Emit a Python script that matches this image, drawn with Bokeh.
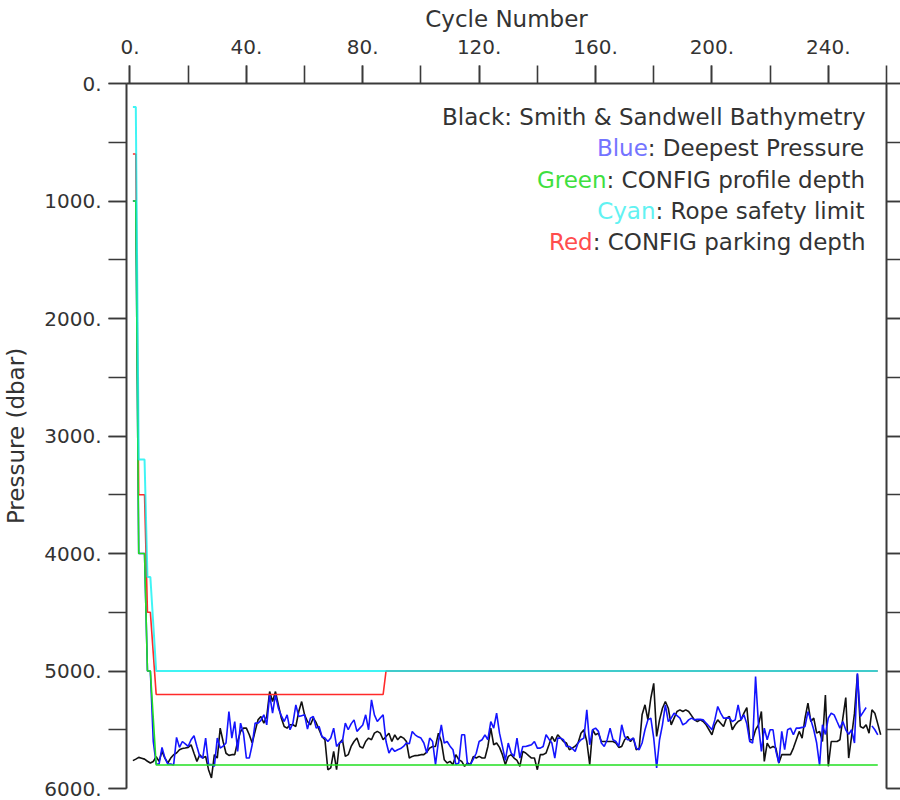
from bokeh.plotting import figure
from bokeh.models import (Range1d, LinearAxis, SingleIntervalTicker, PrintfTickFormatter,
                          CustomJSTickFormatter, Label)
from bokeh.embed import file_html
from bokeh.resources import INLINE

nan = float("nan")

# ---------------- data ----------------
bathy_cycles = list(range(1, 259))
bathy = [5763, 5750, 5735, 5742, 5750, 5768, 5783, 5770, 5730, 5769,
         5684, 5741, 5783, 5741, 5712, 5698, 5670, 5660, 5656, 5650,
         5628, 5700, 5769, 5712, 5741, 5727, 5840, 5910, 5712, 5741,
         5486, 5600, 5700, 5718, 5712, 5712, 5600, 5514, 5486, 5486,
         5543, 5613, 5514, 5416, 5387, 5444, 5387, 5175, 5260, 5175,
         5288, 5400, 5472, 5486, 5458, 5458, 5472, 5345, 5260, 5373,
         5430, 5458, 5400, 5440, 5500, 5560, 5585, 5840, 5825, 5684,
         5840, 5613, 5585, 5727, 5712, 5642, 5600, 5571, 5642, 5656,
         5600, 5571, 5585, 5529, 5514, 5529, 5585, 5557, 5529, 5600,
         5543, 5585, 5557, 5571, 5600, 5741, 5727, 5720, 5718, 5712,
         5712, 5690, 5656, 5642, 5642, 5529, 5600, 5755, 5783, 5769,
         5797, 5712, 5755, 5769, 5811, 5783, 5797, 5727, 5741, 5727,
         5741, 5741, 5642, 5486, 5628, 5613, 5650, 5712, 5797, 5727,
         5712, 5741, 5760, 5811, 5684, 5698, 5720, 5741, 5741, 5840,
         5712, 5712, 5698, 5628, 5557, 5600, 5543, 5571, 5600, 5613,
         5670, 5656, 5640, 5613, 5529, 5500, 5600, 5797, 5500, 5543,
         5529, 5600, 5600, 5600, 5600, 5600, 5613, 5650, 5642, 5585,
         5557, 5600, 5571, 5670, 5656, 5373, 5288, 5416, 5232, 5105,
         5557, 5416, 5317, 5260, 5317, 5458, 5401, 5345, 5331, 5345,
         5331, 5345, 5380, 5416, 5430, 5416, 5430, 5458, 5500, 5543,
         5458, 5416, 5444, 5472, 5401, 5387, 5500, 5458, 5430, 5416,
         5359, 5311, 5585, 5585, 5500, 5458, 5345, 5769, 5613, 5656,
         5642, 5656, 5783, 5712, 5712, 5712, 5712, 5656, 5585, 5514,
         5571, 5401, 5274, 5430, 5401, 5529, 5514, 5600, 5204, 5811,
         5600, 5600, 5600, 5585, 5401, 5226, 5741, 5557, 5359, 5028,
         5472, 5486, 5458, 5529, 5331, 5359, 5450, 5543]

deep_cycles = list(range(1, 258))
deepest = [1000, 1000, 4000, 4000, 4000, 5000, 5000, 5600, 5790, 5792,
           5650, 5740, 5792, 5792, 5800, 5565, 5650, 5600, 5620, 5642,
           5585, 5551, 5642, 5727, 5741, 5571, 5797, 5797, 5811, 5571,
           5656, 5640, 5613, 5345, 5571, 5430, 5684, 5444, 5529, 5741,
           5741, 5628, 5444, 5444, 5420, 5373, 5458, 5204, 5359, 5204,
           5317, 5380, 5430, 5373, 5500, 5444, 5288, 5387, 5380, 5373,
           5495, 5401, 5387, 5486, 5472, 5560, 5571, 5600, 5571, 5486,
           5642, 5613, 5600, 5444, 5500, 5450, 5416, 5514, 5486, 5460,
           5373, 5500, 5246, 5373, 5430, 5400, 5373, 5600, 5698, 5656,
           5684, 5670, 5660, 5642, 5613, 5620, 5514, 5543, 5560, 5571,
           5613, 5698, 5571, 5600, 5797, 5600, 5458, 5613, 5600, 5640,
           5670, 5797, 5783, 5543, 5543, 5797, 5797, 5750, 5700, 5600,
           5585, 5543, 5585, 5430, 5486, 5359, 5529, 5642, 5760, 5613,
           5698, 5727, 5571, 5741, 5642, 5642, 5635, 5628, 5600, 5656,
           5656, 5642, 5543, 5580, 5613, 5741, 5571, 5571, 5585, 5642,
           5642, 5660, 5684, 5613, 5585, 5571, 5331, 5628, 5500, 5486,
           5514, 5613, 5642, 5585, 5486, 5585, 5600, 5642, 5458, 5557,
           5585, 5585, 5571, 5656, 5670, 5613, 5500, 5416, 5401, 5571,
           5825, 5585, 5458, 5288, 5430, 5401, 5359, 5380, 5401, 5458,
           5444, 5416, 5401, 5416, 5410, 5412, 5416, 5444, 5470, 5500,
           5416, 5302, 5359, 5401, 5401, 5401, 5430, 5416, 5288, 5416,
           5373, 5450, 5600, 5613, 5048, 5458, 5684, 5486, 5585, 5500,
           5500, 5684, 5783, 5514, 5670, 5500, 5486, 5543, 5486, 5486,
           5480, 5472, 5345, 5416, 5500, 5613, 5803, 5458, 5540, 5401,
           5359, 5373, 5430, 5486, 5430, 5500, 5540, 5500, 5613, 5020,
           5387, 5350, 5311, nan, 5467, 5500, 5543]

profile_cycles = [1, 2, 3, 5, 6, 7, 8, 9, 257]
profile_depth = [1000, 1000, 4000, 4000, 5000, 5000, 5400, 5800, 5800]

rope_cycles = [1, 2, 3, 5, 6, 7, 8, 9, 257]
rope_limit = [200, 200, 3200, 3200, 4200, 4200, 4600, 5000, 5000]

park_cycles = [1, 2, 3, 5, 6, 7, 8, 9, 87, 88, 257]
park_depth = [600, 600, 3500, 3500, 4500, 4500, 4850, 5200, 5200, 5000, 5000]

x_major = 40
y_major = 1000

legend_rows = [
    ("", "#3a3a3a", "Black: Smith & Sandwell Bathymetry"),
    ("Blue", "#7474ff", ": Deepest Pressure"),
    ("Green", "#3fe03f", ": CONFIG profile depth"),
    ("Cyan", "#62f2f2", ": Rope safety limit"),
    ("Red", "#ff4d4d", ": CONFIG parking depth"),
]

# ---------------- figure ----------------
FONT = "DejaVu Sans"
TXT = "#333333"

p = figure(width=900, height=800,
           x_range=Range1d(-1.2, 260), y_range=Range1d(6000, 0),
           x_axis_location="above", output_backend="svg", toolbar_location=None,
           min_border_left=0, min_border_right=0, min_border_top=83, min_border_bottom=12)
p.outline_line_color = None
p.xgrid.visible = False
p.ygrid.visible = False


def style_axis(ax, tick_len):
    ax.axis_line_color = "#3a3a3a"
    ax.axis_line_width = 2
    ax.major_tick_line_color = "#3a3a3a"
    ax.minor_tick_line_color = "#3a3a3a"
    ax.major_tick_line_width = 1.6
    ax.minor_tick_line_width = 1.6
    ax.major_tick_in = 0
    ax.minor_tick_in = 0
    ax.major_tick_out = tick_len
    ax.minor_tick_out = tick_len
    ax.major_label_text_font = FONT
    ax.major_label_text_font_size = "20px"
    ax.major_label_text_color = TXT
    ax.axis_label_text_font = FONT
    ax.axis_label_text_font_size = "23px"
    ax.axis_label_text_font_style = "normal"
    ax.axis_label_text_color = TXT


xa = p.xaxis[0]
xa.ticker = SingleIntervalTicker(interval=x_major, num_minor_ticks=2)
xa.formatter = PrintfTickFormatter(format="%d.")
xa.axis_label = "Cycle Number"
style_axis(xa, 18)
xa.major_label_standoff = 12
xa.axis_label_standoff = 5

ya = p.yaxis[0]
ya.ticker = SingleIntervalTicker(interval=y_major, num_minor_ticks=2)
ya.formatter = PrintfTickFormatter(format="%d.")
ya.axis_label = "Pressure (dbar)"
style_axis(ya, 18)
ya.major_label_standoff = 7
ya.axis_label_standoff = 12

ra = LinearAxis(ticker=SingleIntervalTicker(interval=y_major, num_minor_ticks=2),
                formatter=CustomJSTickFormatter(code="return ''"))
style_axis(ra, 14)
ra.major_label_standoff = 0
ra.major_label_text_font_size = "1px"
p.add_layout(ra, "right")

# ---------------- lines ----------------
p.line(bathy_cycles, bathy, line_color="#111111", line_width=1.6)
p.line(deep_cycles, deepest, line_color="#1414ff", line_width=1.6)
p.line(park_cycles, park_depth, line_color="#ff2a2a", line_width=1.6)
p.line(profile_cycles, profile_depth, line_color="#22e022", line_width=1.6)
p.line(rope_cycles, rope_limit, line_color="#00f0f0", line_alpha=0.75, line_width=2)

# ---------------- legend text ----------------
W = {' ': 651, ':': 690, '&': 1595, 'a': 1255, 'b': 1300, 'c': 1126, 'd': 1300, 'e': 1260,
     'f': 721, 'g': 1300, 'h': 1298, 'i': 569, 'k': 1186, 'l': 569, 'm': 1995, 'n': 1298,
     'o': 1253, 'p': 1300, 'r': 842, 's': 1067, 't': 803, 'u': 1298, 'w': 1675, 'y': 1212,
     'B': 1405, 'C': 1430, 'D': 1577, 'F': 1178, 'G': 1587, 'I': 604, 'N': 1532, 'O': 1612,
     'P': 1235, 'R': 1423, 'S': 1300}
LEG_SIZE = 23


def text_width(s):
    return sum(W.get(ch, 1200) for ch in s) / 2048.0 * LEG_SIZE


anchor_x = 252.8
row_y = [286, 552, 819, 1086, 1353]
for (word, col, rest), yy in zip(legend_rows, row_y):
    if not word:
        p.add_layout(Label(x=anchor_x, y=yy, text=rest, text_align="right",
                           text_baseline="middle", text_font=FONT,
                           text_font_size=f"{LEG_SIZE}px", text_color=TXT))
        continue
    off = -text_width(rest)
    p.add_layout(Label(x=anchor_x, y=yy, x_offset=off, text=rest, text_align="left",
                       text_baseline="middle", text_font=FONT,
                       text_font_size=f"{LEG_SIZE}px", text_color=TXT))
    p.add_layout(Label(x=anchor_x, y=yy, x_offset=off, text=word, text_align="right",
                       text_baseline="middle", text_font=FONT,
                       text_font_size=f"{LEG_SIZE}px", text_color=col))

open("out.html", "w").write(file_html(p, INLINE))
